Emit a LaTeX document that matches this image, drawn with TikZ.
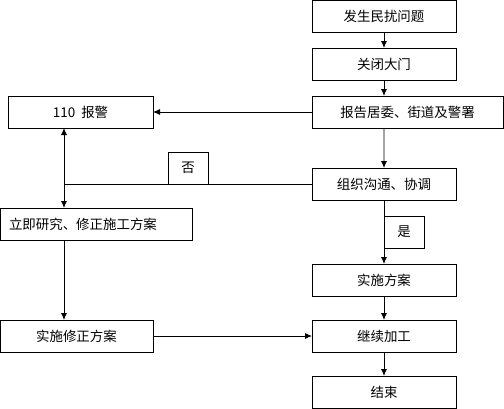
\documentclass[tikz,border=0pt]{standalone}
\usepackage{fontspec}
\newfontfamily\cjk{Noto Sans CJK SC}
\usetikzlibrary{positioning,arrows.meta}

\begin{document}
\begin{tikzpicture}[
    x=1bp, y=-1bp,
    node distance=16bp,
    font=\cjk\fontsize{13.5}{16}\selectfont,
    >={Latex[length=7bp,width=6bp]}
  ]
  \tikzset{
    stepbox/.style={draw, line width=0.9bp, minimum width=144bp, minimum height=32bp, inner sep=0pt, outer sep=0pt, align=center},
    tagbox/.style={draw, line width=0.9bp, minimum width=40bp, minimum height=32bp, inner sep=0pt, outer sep=0pt},
    arrow/.style={->, line width=0.9bp},
    link/.style={line width=0.9bp}
  }
  \useasboundingbox (0,0) rectangle (504,408);

  % right column
  \node (issue) [stepbox] at (384,16) {发生民扰问题};
  \node (close) [stepbox, below=of issue] {关闭大门};
  \node (report) [stepbox, minimum width=191bp, below right=16bp and 0bp of close.south west] {报告居委、街道及警署};
  \node (organize) [stepbox, below=40bp of report, xshift=-23.5bp] {组织沟通、协调};
  \node (plan) [stepbox, below=64bp of organize] {实施方案};
  \node (resume) [stepbox, below=24bp of plan] {继续加工};
  \node (finish) [stepbox, below=24bp of resume] {结束};

  % left column
  \node (alarm) [stepbox, minimum width=145bp, left=159bp of report] {110\ \ 报警};
  \node (revise) [stepbox, text width=174bp, inner xsep=9bp, align=left, anchor=north west] at (0,208) {立即研究、修正施工方案};
  \node (execute) [stepbox, minimum width=153bp, left=159bp of resume] {实施修正方案};

  % decisions
  \node (no) [tagbox, above left=0bp and 104bp of organize.west] {否};
  \node (yes) [tagbox, below right=16bp and 0bp of organize.south] {是};
  \coordinate (split) at (64,0 |- organize.west);

  \draw[arrow] (issue) -- (close);
  \draw[arrow] (close) -- (close |- report.north);
  \draw[arrow] (close |- report.south) -- (organize);
  \draw[arrow] (report) -- (alarm);
  \draw[link] (organize) -- (split);
  \draw[<->, link] (alarm.south -| split) -- (revise.north -| split);
  \draw[arrow] (revise.south -| split) -- (execute.north -| split);
  \draw[arrow] (organize) -- (plan);
  \draw[arrow] (plan) -- (resume);
  \draw[arrow] (execute) -- (resume);
  \draw[arrow] (resume) -- (finish);
\end{tikzpicture}
\end{document}
